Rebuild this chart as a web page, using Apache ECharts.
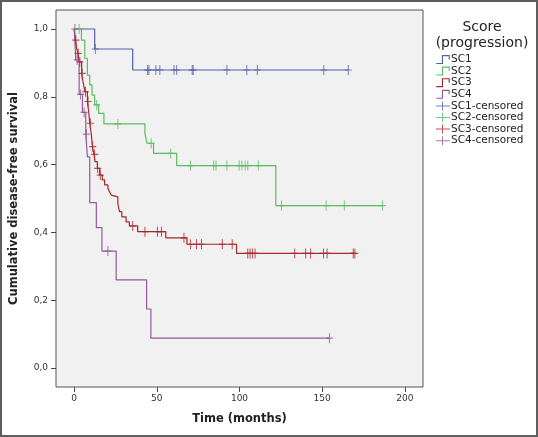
<!DOCTYPE html>
<html>
<head>
<meta charset="utf-8">
<script src="https://cdn.jsdelivr.net/npm/echarts@6/dist/echarts.min.js"></script>
<style>
html,body{margin:0;padding:0;background:#fff;}
#wrap{position:relative;width:538px;height:437px;}
#chart{position:absolute;left:0;top:0;width:538px;height:437px;}
#frame{position:absolute;left:0;top:0;width:538px;height:437px;box-sizing:border-box;border:2px solid #5e5e5e;pointer-events:none;}
</style>
</head>
<body>
<div id="wrap"><div id="chart"></div><div id="frame"></div></div>
<script>
// Kaplan-Meier step data: [time (months), cumulative survival after the event]
const sc1Steps = [[0,1],[12.4,0.941],[35.4,0.879]];
const sc1End = 166;
const sc1Censored = [12.8,44.4,45.2,49.4,51.8,60.4,62,71.4,72,92.4,104.4,110.8,151,165.8];

const sc2Steps = [[0,1],[4.4,0.967],[6.4,0.913],[8,0.864],[9.4,0.835],[10.8,0.805],[12.4,0.776],[14.8,0.751],[18,0.72],[42.8,0.692],[44,0.663],[48,0.633],[62,0.597],[122,0.479]];
const sc2End = 186.5;
const sc2Censored = [3,13.6,26.4,46.6,58.4,70.4,84.4,85.8,92.4,99.8,101.4,103.4,105,111.4,125.4,152.4,163.4,186.5];

const sc3Steps = [[0,1],[0.8,0.967],[1.5,0.943],[2.3,0.928],[3,0.903],[4.5,0.869],[5.5,0.84],[6.5,0.815],[8,0.786],[8.8,0.755],[9.4,0.722],[10.4,0.688],[11,0.653],[12,0.63],[12.6,0.609],[14,0.589],[15.4,0.569],[17,0.555],[18.4,0.54],[20.4,0.53],[21.4,0.52],[22.4,0.51],[23.4,0.505],[26.4,0.486],[27.4,0.461],[28.8,0.446],[31.4,0.431],[33.4,0.419],[38.4,0.402],[55.4,0.384],[68.2,0.365],[98.2,0.338]];
const sc3End = 170;
const sc3Censored = [1,2.4,3.4,4.8,6.8,8.4,9.8,11.2,12.4,14.2,15.8,35.4,42.8,50.4,52.8,66.4,70.4,74,77,89.6,95.6,105,106.4,107.8,109.4,133.4,140,143,150.8,153,168.8,169.8];

const sc4Steps = [[0,1],[1,0.909],[3,0.807],[5,0.754],[7,0.69],[8,0.623],[9.4,0.488],[13.4,0.414],[16.8,0.345],[25.4,0.26],[43.8,0.174],[46.4,0.088]];
const sc4End = 154.4;
const sc4Censored = [0.4,1.8,3.8,6,7.4,20.4,154.4];

const groupNames = ['SC1','SC2','SC3','SC4'];
const xTicks = [0,50,100,150,200];
const yTicks = [0,0.2,0.4,0.6,0.8,1.0];

const colors = ['#5260ad','#5cbb62','#a8262e','#93599a'];
const FONT = 'DejaVu Sans';

function stepLine(steps, end){
  const d = steps.map(p => [p[0], p[1]]);
  d.push([end, steps[steps.length-1][1]]);
  return d;
}
function survAt(steps, t){
  let s = steps[0][1];
  for (const p of steps){ if (p[0] <= t) s = p[1]; }
  return s;
}
function censorPts(steps, times){ return times.map(t => [t, survAt(steps, t)]); }

const groups = [
  {steps: sc1Steps, end: sc1End, cens: sc1Censored},
  {steps: sc2Steps, end: sc2End, cens: sc2Censored},
  {steps: sc3Steps, end: sc3End, cens: sc3Censored},
  {steps: sc4Steps, end: sc4End, cens: sc4Censored}
];

const plusSym = 'path://M3,0H4V4H7V5H4V9H3V5H0V4H3Z';
const stepIcon = 'path://M0,7H5V0H12V4H11V1H6V8H0Z';
const censIcon = 'path://M0,4H6V0H7V4H14V5H7V9H6V5H0Z';

const series = [];
groups.forEach((g, i) => {
  series.push({
    name: groupNames[i], type: 'line', step: 'end',
    data: stepLine(g.steps, g.end), showSymbol: false, symbol: 'none',
    lineStyle: {color: colors[i], width: 1.2}, itemStyle: {color: colors[i]},
    animation: false, z: 2
  });
});
groups.forEach((g, i) => {
  series.push({
    name: groupNames[i] + '-censored', type: 'scatter',
    data: censorPts(g.steps, g.cens), symbol: plusSym, symbolSize: [7, 10],
    itemStyle: {color: colors[i]}, animation: false, z: 3
  });
});

const legendData = groupNames.map((n, i) => ({name: n, icon: stepIcon, itemStyle: {color: colors[i], borderWidth: 0}}))
  .concat(groupNames.map((n, i) => ({name: n + '-censored', icon: censIcon, itemStyle: {color: colors[i], borderWidth: 0}})));

const chart = echarts.init(document.getElementById('chart'), null, {renderer: 'canvas'});
chart.setOption({
  animation: false,
  backgroundColor: '#ffffff',
  textStyle: {fontFamily: FONT},
  title: {
    text: 'Score\n(progression)', left: 477, top: 14, textAlign: 'center',
    textStyle: {fontFamily: FONT, fontSize: 14, fontWeight: 'normal', color: '#222', lineHeight: 16}
  },
  legend: {
    orient: 'vertical', left: 431, top: 49, data: legendData,
    itemWidth: 14, itemHeight: 9, itemGap: 0.6,
    textStyle: {fontFamily: FONT, fontSize: 10.5, lineHeight: 10, color: '#222', padding: [0,0,0,-4]},
    selectedMode: false
  },
  grid: {
    left: 53, top: 10, right: 115, bottom: 50, show: true,
    backgroundColor: '#f1f1f1', borderColor: '#555', borderWidth: 1
  },
  xAxis: {
    type: 'value', min: -11, max: 211,
    name: 'Time (months)', nameLocation: 'middle', nameGap: 26,
    nameTextStyle: {fontFamily: FONT, fontSize: 11.5, fontWeight: 'bold', color: '#222'},
    axisLine: {show: false, onZero: false},
    axisTick: {show: true, inside: false, length: 5, lineStyle: {color: '#444'}, customValues: xTicks},
    axisLabel: {fontSize: 9, color: '#333', margin: 7, customValues: xTicks, formatter: v => String(v)},
    splitLine: {show: false}
  },
  yAxis: {
    type: 'value', min: -0.056, max: 1.056,
    name: 'Cumulative disease-free survival', nameLocation: 'middle', nameGap: 36,
    nameTextStyle: {fontFamily: FONT, fontSize: 11.5, fontWeight: 'bold', color: '#222'},
    axisLine: {show: false, onZero: false},
    axisTick: {show: true, inside: false, length: 5, lineStyle: {color: '#444'}, customValues: yTicks},
    axisLabel: {fontSize: 9, color: '#333', margin: 8, customValues: yTicks,
      formatter: v => v.toFixed(1).replace('.', ',')},
    splitLine: {show: false}
  },
  series: series
});
</script>
</body>
</html>
